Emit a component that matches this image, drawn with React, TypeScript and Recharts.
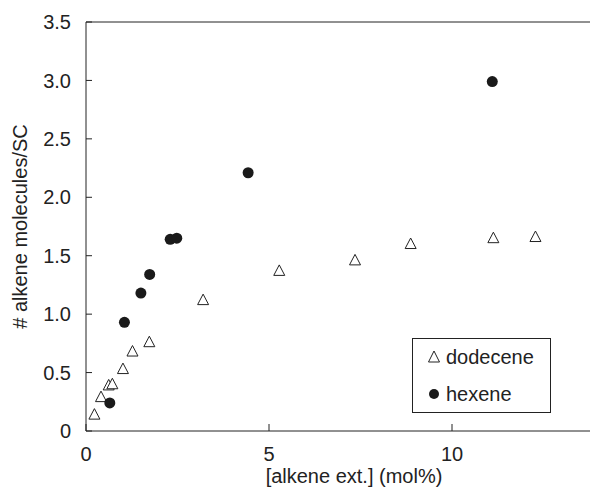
import { ScatterChart, Scatter, XAxis, YAxis, ReferenceLine, Legend, Label } from "recharts";

// [alkene ext.] (mol%) vs # alkene molecules per SC
const dodeceneX = [0.23, 0.41, 0.62, 0.72, 1.01, 1.27, 1.73, 3.2, 5.28, 7.35, 8.87, 11.13, 12.28];
const dodeceneY = [0.14, 0.29, 0.39, 0.4, 0.53, 0.68, 0.76, 1.12, 1.37, 1.46, 1.6, 1.65, 1.66];
const hexeneX = [0.65, 1.05, 1.5, 1.74, 2.3, 2.48, 4.43, 11.1];
const hexeneY = [0.24, 0.93, 1.18, 1.34, 1.64, 1.65, 2.21, 2.99];

const xTicks = [0, 5, 10];
const yTicks = [0, 0.5, 1, 1.5, 2, 2.5, 3, 3.5];

const dodecene = dodeceneX.map((x, i) => ({ x, y: dodeceneY[i] }));
const hexene = hexeneX.map((x, i) => ({ x, y: hexeneY[i] }));

const FONT = "'Liberation Sans', Arial, sans-serif";
const INK = "#222";

const Triangle = (props: any) => {
  const { cx, cy } = props;
  return (
    <polygon
      points={`${cx},${cy - 6} ${cx - 5.5},${cy + 4.5} ${cx + 5.5},${cy + 4.5}`}
      fill="#fff"
      stroke={INK}
      strokeWidth={1}
    />
  );
};

const Dot = (props: any) => <circle cx={props.cx} cy={props.cy} r={5.5} fill="#1a1a1a" />;

const YTick = (props: any) => {
  const { x, y, payload } = props;
  const v = payload.value;
  return (
    <g>
      <line x1={x} y1={y} x2={x + 6} y2={y} stroke={INK} />
      <text x={x - 15} y={y} dy="0.355em" textAnchor="end" fontSize={20} fill={INK} fontFamily={FONT}>
        {v === 0 ? "0" : v.toFixed(1)}
      </text>
    </g>
  );
};

const XTick = (props: any) => {
  const { x, y, payload } = props;
  return (
    <g>
      <line x1={x} y1={y} x2={x} y2={y - 7} stroke={INK} />
      <text x={x} y={y + 16} dy="0.71em" textAnchor="middle" fontSize={20} fill={INK} fontFamily={FONT}>
        {payload.value}
      </text>
    </g>
  );
};

const LegendBox = (props: any) => {
  const { payload } = props;
  return (
    <div
      style={{
        position: "relative",
        width: 137,
        height: 73,
        border: `1px solid ${INK}`,
        background: "#fff",
        fontFamily: FONT,
        fontSize: 20,
        color: INK,
      }}
    >
      {(payload || []).map((entry: any, i: number) => (
        <div key={entry.value} style={{ position: "absolute", left: 13, top: i === 0 ? 6 : 43, display: "flex", alignItems: "center", lineHeight: "24px" }}>
          <svg width={16} height={16} style={{ marginRight: 4 }}>
            {entry.value === "dodecene" ? (
              <polygon points="8,2 2.5,13 13.5,13" fill="#fff" stroke={INK} strokeWidth={1} />
            ) : (
              <circle cx={8} cy={8} r={5} fill="#1a1a1a" />
            )}
          </svg>
          <span>{entry.value}</span>
        </div>
      ))}
    </div>
  );
};

export default function App() {
  return (
    <div style={{ position: "absolute", left: 0, top: 0 }}>
      <ScatterChart width={590} height={489} margin={{ top: 22, right: 0, bottom: 0, left: 0 }}>
        <XAxis
          type="number"
          dataKey="x"
          domain={[0, 13.77]}
          ticks={xTicks}
          allowDataOverflow
          height={58}
          tickSize={0}
          tickMargin={0}
          tick={<XTick />}
          axisLine={{ stroke: INK }}
        >
          <Label
            value="[alkene ext.] (mol%)"
            position="insideBottom"
            offset={6}
            dx={16}
            style={{ fontSize: 20, fill: INK, fontFamily: FONT }}
          />
        </XAxis>
        <YAxis
          type="number"
          dataKey="y"
          domain={[0, 3.5]}
          ticks={yTicks}
          width={86}
          tickSize={0}
          tickMargin={0}
          tick={<YTick />}
          axisLine={{ stroke: INK }}
        >
          <Label
            value="# alkene molecules/SC"
            angle={-90}
            position="insideLeft"
            offset={20}
            style={{ fontSize: 20, fill: INK, fontFamily: FONT, textAnchor: "middle" }}
          />
        </YAxis>
        <ReferenceLine y={3.5} stroke={INK} />
        <Legend
          layout="vertical"
          align="center"
          verticalAlign="middle"
          content={<LegendBox />}
          wrapperStyle={{ left: 412, top: 338, width: 139, height: 75 }}
        />
        <Scatter name="dodecene" data={dodecene} shape={<Triangle />} fill="#fff" isAnimationActive={false} />
        <Scatter name="hexene" data={hexene} shape={<Dot />} fill="#1a1a1a" isAnimationActive={false} />
      </ScatterChart>
    </div>
  );
}
